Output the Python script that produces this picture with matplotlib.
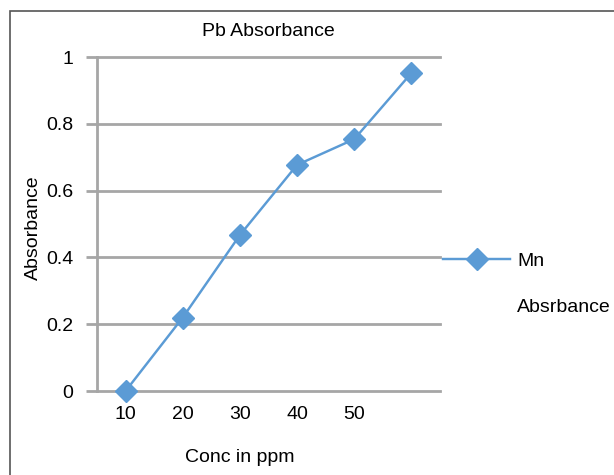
import matplotlib
matplotlib.use('Agg')
import matplotlib.pyplot as plt
from matplotlib.patches import Rectangle

plt.rcParams['font.family'] = ['Liberation Sans', 'DejaVu Sans']

# datos
conc_labels = ['10', '20', '30', '40', '50', '']
absorbance = [0.0, 0.22, 0.467, 0.677, 0.754, 0.952]
y_ticks = [0, 0.2, 0.4, 0.6, 0.8, 1]
y_tick_labels = ['0', '0.2', '0.4', '0.6', '0.8', '1']

line_color = '#5b9bd5'
grid_color = '#a6a6a6'
fs = 14

fig = plt.figure(figsize=(6.14, 4.75), dpi=100)
ax = fig.add_axes([97/614, 1 - 391/475, (440 - 97)/614, (391 - 57)/475])

x = list(range(len(conc_labels)))
ax.plot(x, absorbance, color=line_color, linewidth=1.75, marker='D',
        markersize=11, label='Mn', clip_on=False, zorder=3)

ax.set_xlim(-0.5, len(conc_labels) - 0.5)
ax.set_ylim(0, 1)
ax.set_xticks(x)
ax.set_xticklabels(conc_labels, fontsize=fs)
ax.set_yticks(y_ticks)
ax.set_yticklabels(y_tick_labels, fontsize=fs)
ax.tick_params(axis='x', length=0, pad=11)
ax.tick_params(axis='y', length=8, width=2, color=grid_color, pad=9)

ax.grid(axis='y', color=grid_color, linewidth=2)
for gl in ax.get_ygridlines():
    gl.set_clip_on(False)
for s in ['top', 'right', 'bottom']:
    ax.spines[s].set_visible(False)
ax.spines['left'].set_color(grid_color)
ax.spines['left'].set_linewidth(2)

fig.text(268/614, 1 - 31/475, 'Pb Absorbance', fontsize=fs, ha='center', va='center')
fig.text(240/614, 1 - 458/475, 'Conc in ppm', fontsize=fs, ha='center', va='center')
fig.text(33/614, 1 - 228/475, 'Absorbance', fontsize=fs, rotation=90, ha='center', va='center')

ax.legend(loc='center left', bbox_to_anchor=(443/614, 1 - 261/475),
          bbox_transform=fig.transFigure, frameon=False, fontsize=fs,
          handlelength=3.45, handletextpad=0.36, borderaxespad=0, borderpad=0)
fig.text(517/614, 1 - 307/475, 'Absrbance', fontsize=fs, ha='left', va='center')

# marco exterior
fig.patches.append(Rectangle((10/614, -0.05), 1.0, 1 - 11/475 + 0.05,
                             transform=fig.transFigure, fill=False,
                             edgecolor='#555555', linewidth=1.2))

fig.savefig('out.png', dpi=100)
